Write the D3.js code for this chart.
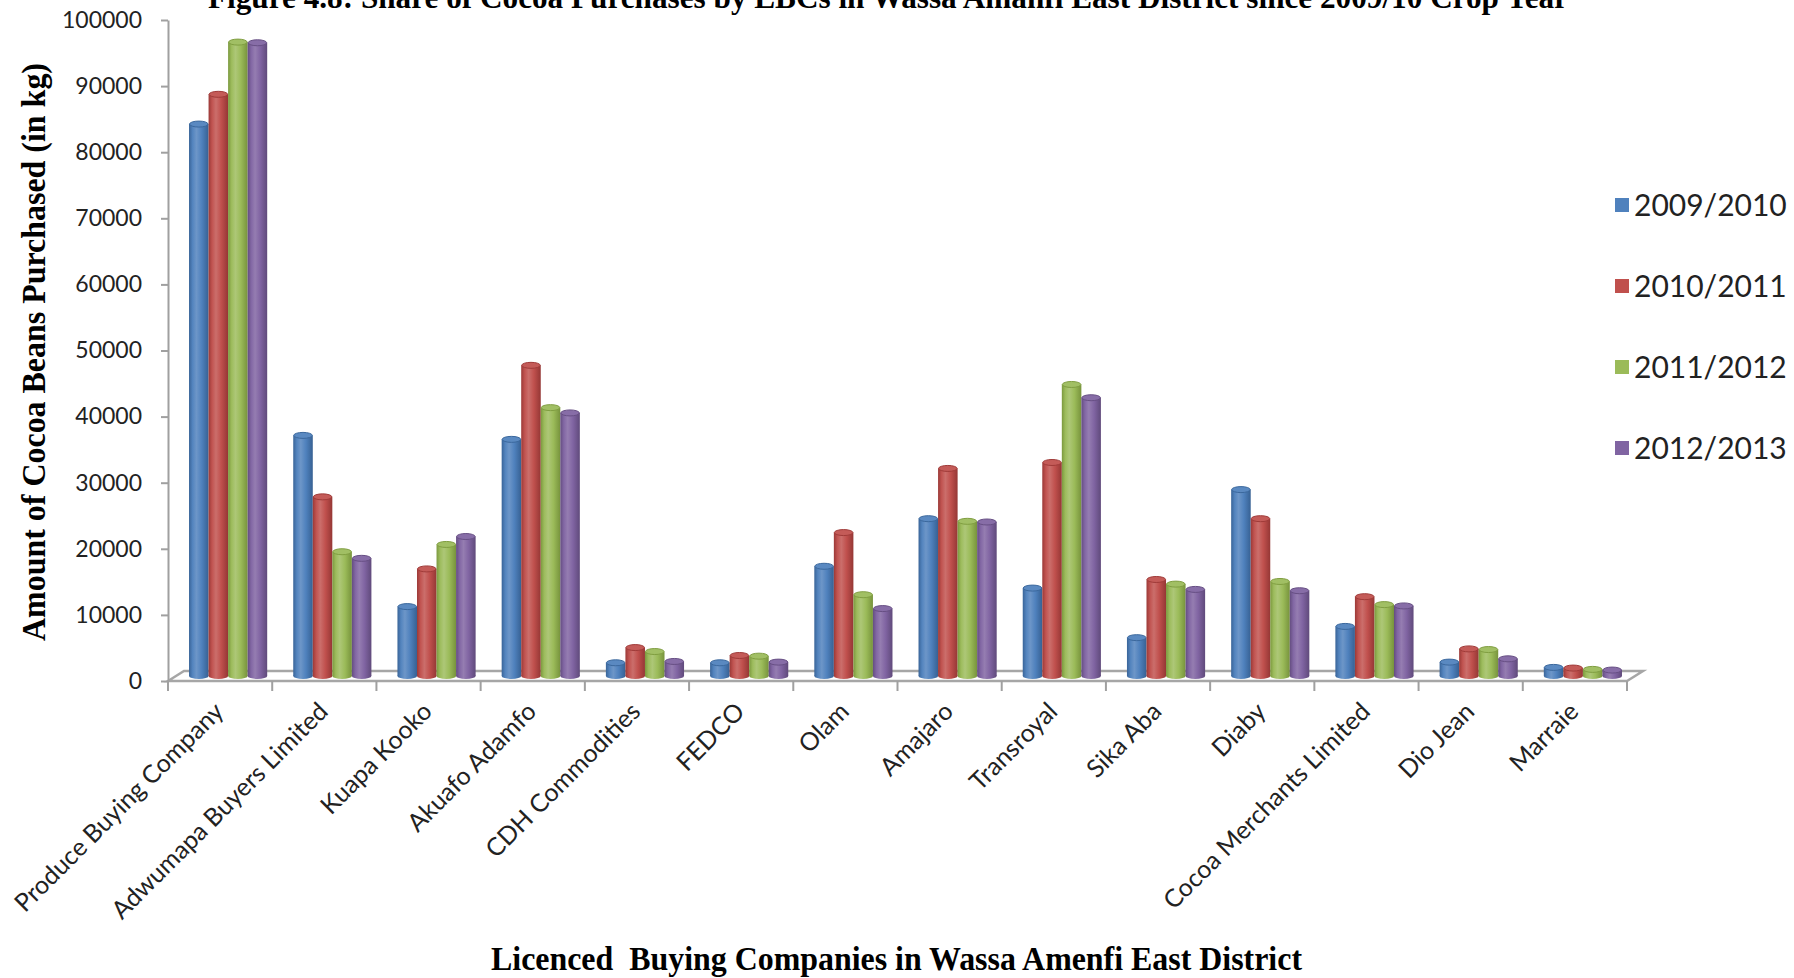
<!DOCTYPE html>
<meta charset="utf-8" />
<style>
    body { margin: 0; background: #fff; }
    .axis path, .axis line { stroke: #a0a0a0; stroke-width: 2px; }
    .axis text { font-family: Lato, "Open Sans", sans-serif; font-size: 23px; fill: #222; }
    .catlabel { font-family: Lato, "Open Sans", sans-serif; font-size: 25px; fill: #222; }
    .legend text { font-family: Lato, "Open Sans", sans-serif; font-size: 30px; fill: #222; }
    .ttl { font-family: "Liberation Serif", "Times New Roman", serif; font-weight: bold; fill: #000; }
</style>
<svg width="1794" height="978"></svg>
<script src="https://d3js.org/d3.v7.min.js"></script>
<script>
    // data
    var companies = ["Produce Buying Company", "Adwumapa Buyers Limited", "Kuapa Kooko", "Akuafo Adamfo",
        "CDH Commodities", "FEDCO", "Olam", "Amajaro", "Transroyal", "Sika Aba", "Diaby",
        "Cocoa Merchants Limited", "Dio Jean", "Marraie"];
    var seasons = ["2009/2010", "2010/2011", "2011/2012", "2012/2013"];
    var s0910 = [83500, 36400, 10500, 35800, 2000, 2000, 16600, 23800, 13300, 5800, 28200, 7500, 2100, 1300];
    var s1011 = [88000, 27100, 16200, 47000, 4300, 3100, 21700, 31400, 32300, 14600, 23800, 12000, 4100, 1200];
    var s1112 = [95900, 18800, 19900, 40600, 3700, 3000, 12300, 23400, 44100, 13900, 14300, 10800, 4000, 1000];
    var s1213 = [95800, 17800, 21100, 39800, 2200, 2100, 10200, 23300, 42100, 13100, 12900, 10600, 2600, 900];
    var yTicks = [0, 10000, 20000, 30000, 40000, 50000, 60000, 70000, 80000, 90000, 100000];
    var colors = ["#4f81bd", "#c0504d", "#9bbb59", "#8064a2"];

    var series = [s0910, s1011, s1112, s1213];

    var svg = d3.select("svg");

    // plot frame (front edge of the 3d floor)
    var plotLeft = 168, plotRight = 1627, plotBottom = 681, plotTop = 20;
    var depthX = 16, depthY = 10;

    var y = d3.scaleLinear().domain([0, 100000]).range([plotBottom, plotTop]);
    // bars stand in the middle of the floor depth
    var yBar = d3.scaleLinear().domain([0, 100000]).range([plotBottom - depthY / 2, plotTop - depthY / 2]);

    var xCat = d3.scaleBand().domain(companies).range([plotLeft, plotRight]);
    var xGroup = d3.scaleBand()
        .domain(companies)
        .range([plotLeft + depthX / 2, plotRight + depthX / 2])
        .paddingInner(0.25)
        .paddingOuter(0.125);
    var xSeason = d3.scaleBand().domain(seasons).range([0, xGroup.bandwidth()]);

    // cylinder shading
    var defs = svg.append("defs");
    colors.forEach(function (c, i) {
        var base = d3.hsl(c);
        var g = defs.append("linearGradient").attr("id", "cyl" + i)
            .attr("x1", "0%").attr("x2", "100%").attr("y1", "0%").attr("y2", "0%");
        g.append("stop").attr("offset", "0%").attr("stop-color", base.darker(0.7));
        g.append("stop").attr("offset", "18%").attr("stop-color", base.brighter(0.05));
        g.append("stop").attr("offset", "38%").attr("stop-color", base.brighter(0.4));
        g.append("stop").attr("offset", "65%").attr("stop-color", c);
        g.append("stop").attr("offset", "100%").attr("stop-color", base.darker(0.8));
    });

    // floor
    svg.append("path")
        .attr("d", "M" + plotLeft + "," + plotBottom +
            "L" + (plotLeft + depthX) + "," + (plotBottom - depthY) +
            "L" + (plotRight + depthX) + "," + (plotBottom - depthY) +
            "L" + plotRight + "," + plotBottom + "Z")
        .attr("fill", "none")
        .attr("stroke", "#a6a6a6")
        .attr("stroke-width", 2.5);

    // y axis
    svg.append("g")
        .attr("class", "axis")
        .attr("transform", "translate(" + plotLeft + ",0)")
        .call(d3.axisLeft(y).tickValues(yTicks).tickSize(7).tickSizeOuter(0).tickPadding(19).tickFormat(d3.format("d")));

    // x ticks at category boundaries
    var bounds = companies.map(function (d) { return xCat(d); }).concat([plotRight]);
    svg.append("g")
        .attr("class", "axis")
        .selectAll("line")
        .data(bounds)
        .enter()
        .append("line")
        .attr("x1", function (d) { return d; })
        .attr("x2", function (d) { return d; })
        .attr("y1", plotBottom)
        .attr("y2", plotBottom + 10);

    // bars
    var rows = companies.map(function (name, i) {
        return {
            name: name,
            values: series.map(function (s, j) { return { season: seasons[j], idx: j, value: s[i] }; })
        };
    });

    var ry = 3;
    var group = svg.append("g")
        .selectAll("g")
        .data(rows)
        .enter()
        .append("g")
        .attr("transform", function (d) { return "translate(" + xGroup(d.name) + ",0)"; });

    var cyl = group.selectAll("g")
        .data(function (d) { return d.values; })
        .enter()
        .append("g");

    cyl.append("ellipse")
        .attr("cx", function (d) { return xSeason(d.season) + xSeason.bandwidth() / 2; })
        .attr("cy", yBar(0))
        .attr("rx", xSeason.bandwidth() / 2)
        .attr("ry", ry)
        .attr("fill", function (d) { return "url(#cyl" + d.idx + ")"; });

    cyl.append("rect")
        .attr("x", function (d) { return xSeason(d.season); })
        .attr("y", function (d) { return yBar(d.value); })
        .attr("width", xSeason.bandwidth())
        .attr("height", function (d) { return yBar(0) - yBar(d.value); })
        .attr("fill", function (d) { return "url(#cyl" + d.idx + ")"; });

    cyl.append("ellipse")
        .attr("cx", function (d) { return xSeason(d.season) + xSeason.bandwidth() / 2; })
        .attr("cy", function (d) { return yBar(d.value); })
        .attr("rx", xSeason.bandwidth() / 2 - 0.5)
        .attr("ry", ry)
        .attr("fill", function (d) { return d3.hsl(colors[d.idx]).brighter(0.15); })
        .attr("stroke", function (d) { return d3.hsl(colors[d.idx]).darker(0.6); })
        .attr("stroke-width", 1);

    // category labels
    svg.append("g")
        .selectAll("text")
        .data(companies)
        .enter()
        .append("text")
        .attr("class", "catlabel")
        .attr("text-anchor", "end")
        .attr("dominant-baseline", "central")
        .attr("transform", function (d) {
            return "translate(" + (xCat(d) + xCat.bandwidth() / 2 - 2) + "," + (plotBottom + 25) + ") rotate(-45)";
        })
        .text(function (d) { return d; });

    // legend
    var legend = svg.append("g")
        .attr("class", "legend")
        .selectAll("g")
        .data(seasons)
        .enter()
        .append("g")
        .attr("transform", function (d, i) { return "translate(1615," + (205 + i * 81) + ")"; });

    legend.append("rect")
        .attr("x", 0)
        .attr("y", -7)
        .attr("width", 14)
        .attr("height", 14)
        .attr("fill", function (d, i) { return colors[i]; });

    legend.append("text")
        .attr("x", 19)
        .attr("dy", "0.35em")
        .text(function (d) { return d; });

    // titles
    svg.append("text")
        .attr("class", "ttl")
        .attr("x", 208)
        .attr("y", 8)
        .attr("font-size", 32)
        .attr("textLength", 1360)
        .attr("lengthAdjust", "spacingAndGlyphs")
        .text("Figure 4.8: Share of Cocoa Purchases by LBCs in Wassa Amanfi East District since 2009/10 Crop Year");

    svg.append("text")
        .attr("class", "ttl")
        .attr("x", 491)
        .attr("y", 970)
        .attr("font-size", 34)
        .attr("textLength", 811)
        .attr("lengthAdjust", "spacingAndGlyphs")
        .style("white-space", "pre")
        .text("Licenced  Buying Companies in Wassa Amenfi East District");

    svg.append("text")
        .attr("class", "ttl")
        .attr("transform", "translate(45,641) rotate(-90)")
        .attr("font-size", 34)
        .attr("textLength", 578)
        .attr("lengthAdjust", "spacingAndGlyphs")
        .text("Amount of Cocoa Beans Purchased (in kg)");
</script>
